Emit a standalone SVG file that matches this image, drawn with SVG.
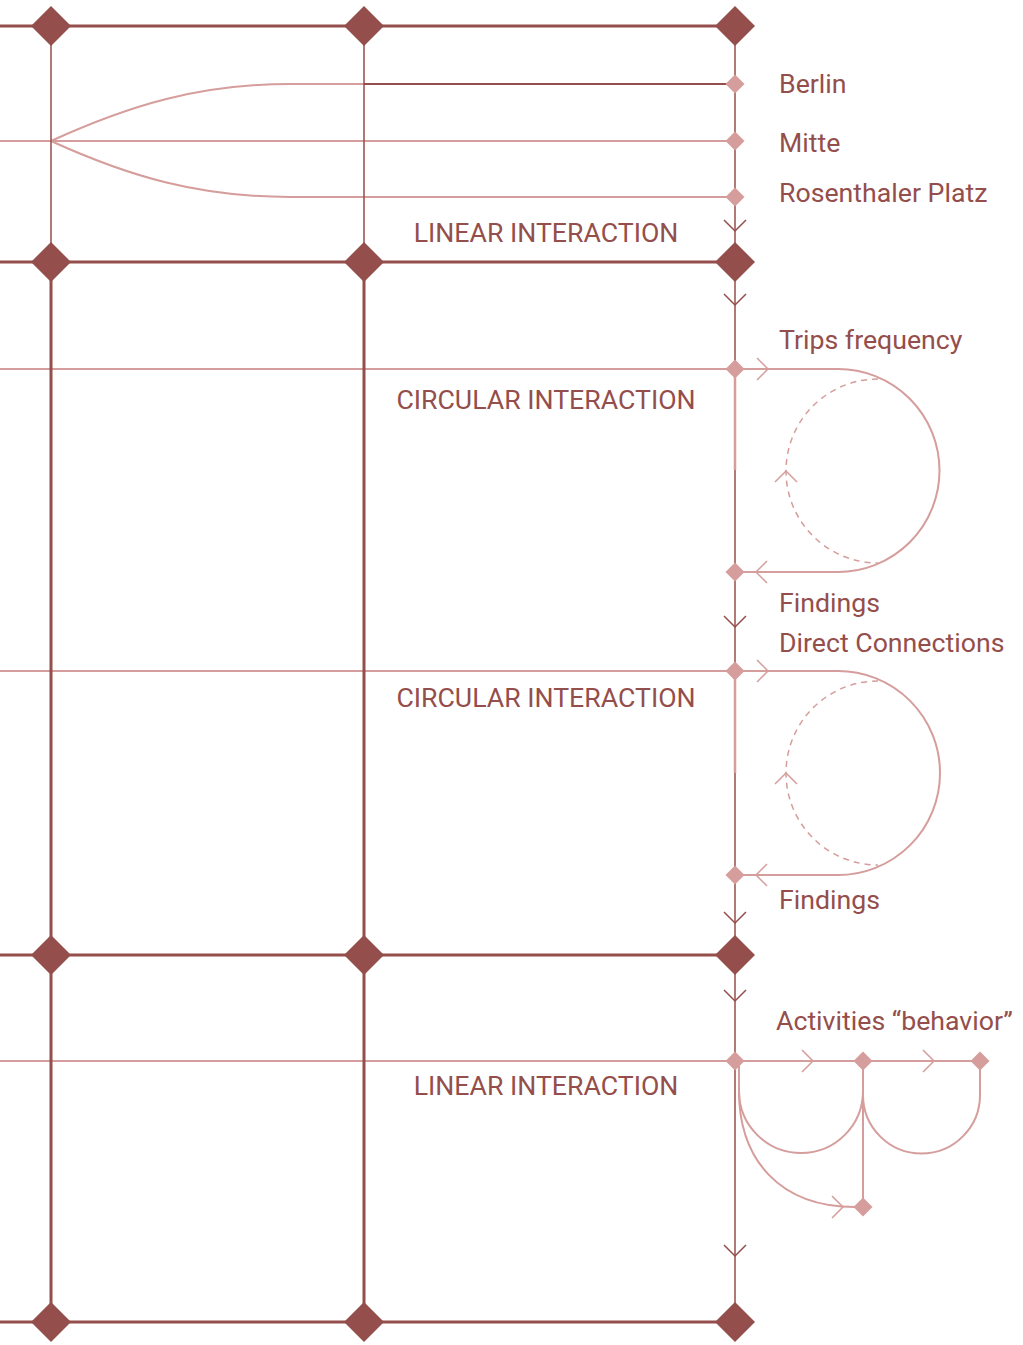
<svg xmlns="http://www.w3.org/2000/svg" width="1023" height="1345" viewBox="0 0 1023 1345">
<style>
.dk{stroke:#944e4b;fill:none}
.lt{stroke:#d59d9b;fill:none}
.bd{fill:#944e4b}
.sd{fill:#d59d9b}
.lbl{font-family:Roboto,"Noto Sans",sans-serif;font-size:26.7px;fill:#944e4b}
.mid{text-anchor:middle}
</style>
<defs>
<path id="bigd" d="M0,-20 L20,0 L0,20 L-20,0 Z"/>
<path id="smd" d="M0,-9.5 L9.5,0 L0,9.5 L-9.5,0 Z"/>
<path id="chevD" d="M-11,-11 L0,0 L11,-11"/>
<path id="chevR" d="M-11,-11 L0,0 L-11,11"/>
<path id="chevL" d="M11,-11 L0,0 L11,11"/>
<path id="chevU" d="M-11,11 L0,0 L11,11"/>
</defs>
<rect width="1023" height="1345" fill="#ffffff"/>
<g id="connectors">
<path class="lt" stroke-width="2" d="M0,141 H735"/>
<path class="lt" stroke-width="2" d="M51,141 C130,105 200,84 290,84 H364"/>
<path class="lt" stroke-width="2" d="M51,141 C130,177 200,197 290,197 H735"/>
<path class="dk" stroke-width="2" d="M364,84 H735"/>
<path class="lt" stroke-width="2" d="M0,369 H838 A101.5,101.5 0 1 1 838,572 H735"/>
<path class="lt" stroke-width="2" d="M0,671 H838 A102,102 0 1 1 838,875 H735"/>
<path class="lt" stroke-width="1.5" stroke-dasharray="6,5" d="M878,379 A92,92 0 0 0 878,563"/>
<path class="lt" stroke-width="1.5" stroke-dasharray="6,5" d="M878,681 A92,92 0 0 0 878,865"/>
<path class="lt" stroke-width="2" d="M0,1061 H980"/>
<path class="lt" stroke-width="2" d="M739,1066 V1091 A62,62 0 0 0 863,1091"/>
<path class="lt" stroke-width="2" d="M863,1095 A58.5,58.5 0 0 0 980,1095 V1066"/>
<path class="lt" stroke-width="2" d="M863,1061 V1207"/>
<path class="lt" stroke-width="2" d="M739,1091 C739,1160 780,1207 855,1207"/>
<path class="dk" stroke-width="1.5" d="M51,26 V262 M364,26 V262"/>
<path class="dk" stroke-width="3" d="M51,262 V1322 M364,262 V1322"/>
<path class="dk" stroke-width="1.5" d="M735,26 V1322"/>
<path class="lt" stroke-width="2.5" d="M735,369 V470 M735,671 V773"/>
<path class="dk" stroke-width="3" d="M0,26 H735 M0,262 H735 M0,955 H735 M0,1322 H735"/>
<g class="dk" stroke-width="1.5">
<use href="#chevD" x="735" y="231"/>
<use href="#chevD" x="735" y="305"/>
<use href="#chevD" x="735" y="627"/>
<use href="#chevD" x="735" y="923"/>
<use href="#chevD" x="735" y="1001"/>
<use href="#chevD" x="735" y="1256"/>
</g>
<g class="lt" stroke-width="1.5">
<use href="#chevR" x="768" y="369"/>
<use href="#chevL" x="756" y="572"/>
<use href="#chevU" x="786" y="471"/>
<use href="#chevR" x="768" y="671"/>
<use href="#chevL" x="756" y="875"/>
<use href="#chevU" x="786" y="773"/>
<use href="#chevR" x="813" y="1061"/>
<use href="#chevR" x="934" y="1061"/>
<use href="#chevR" x="843" y="1207"/>
</g>
</g>
<g id="grid-nodes" class="bd">
<use href="#bigd" x="51" y="26"/><use href="#bigd" x="364" y="26"/><use href="#bigd" x="735" y="26"/>
<use href="#bigd" x="51" y="262"/><use href="#bigd" x="364" y="262"/><use href="#bigd" x="735" y="262"/>
<use href="#bigd" x="51" y="955"/><use href="#bigd" x="364" y="955"/><use href="#bigd" x="735" y="955"/>
<use href="#bigd" x="51" y="1322"/><use href="#bigd" x="364" y="1322"/><use href="#bigd" x="735" y="1322"/>
</g>
<g id="node-berlin"><use class="sd" href="#smd" x="735" y="84"/><text class="lbl" x="779" y="93">Berlin</text></g>
<g id="node-mitte"><use class="sd" href="#smd" x="735" y="141"/><text class="lbl" x="779" y="152">Mitte</text></g>
<g id="node-rosenthaler"><use class="sd" href="#smd" x="735" y="197"/><text class="lbl" x="779" y="202">Rosenthaler Platz</text></g>
<g id="label-linear-1"><text class="lbl mid" x="546" y="242">LINEAR INTERACTION</text></g>
<g id="node-trips"><use class="sd" href="#smd" x="735" y="369"/><text class="lbl" x="779" y="349">Trips frequency</text></g>
<g id="label-circular-1"><text class="lbl mid" x="546" y="409">CIRCULAR INTERACTION</text></g>
<g id="node-findings-1"><use class="sd" href="#smd" x="735" y="572"/><text class="lbl" x="779" y="612">Findings</text></g>
<g id="node-direct"><use class="sd" href="#smd" x="735" y="671"/><text class="lbl" x="779" y="652">Direct Connections</text></g>
<g id="label-circular-2"><text class="lbl mid" x="546" y="707">CIRCULAR INTERACTION</text></g>
<g id="node-findings-2"><use class="sd" href="#smd" x="735" y="875"/><text class="lbl" x="779" y="909">Findings</text></g>
<g id="node-activities"><use class="sd" href="#smd" x="735" y="1061"/><text class="lbl" x="776" y="1030">Activities “behavior”</text></g>
<g id="label-linear-2"><text class="lbl mid" x="546" y="1095">LINEAR INTERACTION</text></g>
<g id="node-act-2"><use class="sd" href="#smd" x="863" y="1061"/></g>
<g id="node-act-3"><use class="sd" href="#smd" x="980" y="1061"/></g>
<g id="node-act-4"><use class="sd" href="#smd" x="863" y="1207"/></g>
</svg>
